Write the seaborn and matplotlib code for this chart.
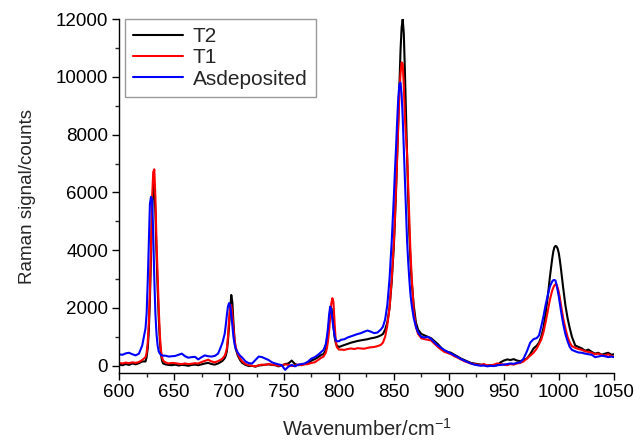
import numpy as np
import pandas as pd
import matplotlib
matplotlib.use("Agg")
import matplotlib.pyplot as plt
import seaborn as sns
from matplotlib.ticker import MultipleLocator

# Wavenumber grid (cm^-1)
wavenumber = [
    600, 603, 606, 609, 612, 615, 618, 621, 624,
    625, 626, 627, 628, 629, 630, 631, 632, 633, 634, 635, 636, 637, 638, 639, 640,
    642, 645, 648, 651, 654, 657, 660, 663, 666, 669, 672, 675, 678, 681, 684, 687, 690,
    692, 694, 696, 697, 698, 699, 700, 701, 702, 703, 704, 705, 706, 708, 710, 712,
    715, 718, 721, 724, 727, 730, 733, 736, 739, 742, 745, 748, 751, 754, 757, 760,
    763, 766, 769, 772, 775, 778, 781, 784,
    786, 788, 789, 790, 791, 792, 793, 794, 795, 796, 797, 798, 800,
    802, 805, 808, 811, 814, 817, 820, 823, 826, 829, 832, 835, 838,
    840, 842, 844, 846, 848, 850, 851, 852, 853, 854, 855, 856, 857, 858, 859, 860,
    861, 862, 863, 864, 865, 866, 868, 870,
    872, 875, 878, 881, 884, 887, 890, 893, 896, 899, 902, 905, 908, 911, 914, 917,
    920, 923, 926, 929, 932, 935, 938, 941, 944, 947, 950, 953, 956, 959, 962, 965,
    968, 971, 974, 977, 980,
    982, 984, 986, 988, 990, 992, 994, 995, 996, 997, 998, 999, 1000, 1001, 1002,
    1004, 1006, 1008, 1010, 1012,
    1015, 1018, 1021, 1024, 1027, 1030, 1033, 1036, 1039, 1042, 1045, 1048, 1050,
]

t2_counts = [
    40, 20, 60, 30, 80, 50, 90, 150, 150,
    300, 600, 1200, 2300, 3800, 5300, 6200, 6300, 5300, 3900, 2700, 1700, 900, 400, 180, 80,
    50, 30, 20, 40, 10, 30, 20, 0, 30, 40, 20, 50, 80, 100, 60, 40, 80,
    120, 170, 260, 350, 500, 850, 1400, 2000, 2450, 2200, 1500, 900, 600, 350, 200, 100,
    30, -10, 0, -30, 10, 20, 40, 50, 30, 20, -20, 10, 60, 80, 180, 60,
    20, 40, 70, 100, 180, 230, 300, 380,
    400, 550, 750, 1050, 1500, 1900, 2000, 1800, 1400, 1000, 800, 700, 650,
    680, 720, 760, 800, 830, 860, 880, 900, 920, 950, 970, 1000, 1050,
    1100, 1250, 1500, 2000, 2900, 4200, 5100, 6100, 7300, 8500, 9700, 10900, 11700, 12000, 11500, 10200,
    8700, 7200, 5800, 4600, 3700, 3000, 2100, 1500,
    1250, 1100, 1050, 1000, 950, 850, 750, 620, 520, 480, 450, 380, 320, 250, 200, 150,
    100, 80, 60, 40, 20, 10, 20, 0, 20, 120, 180, 220, 200, 230, 180, 160,
    200, 250, 400, 600, 700,
    800, 1000, 1300, 1800, 2400, 3100, 3700, 3950, 4100, 4150, 4130, 4050, 3900, 3650, 3350,
    2700, 2100, 1650, 1300, 1000,
    700, 650, 600, 520, 560, 480, 420, 450, 380, 420, 450, 380, 400,
]

t1_counts = [
    100, 80, 110, 90, 120, 100, 130, 200, 300,
    450, 800, 1500, 2600, 4200, 5800, 6700, 6800, 5800, 4300, 3100, 2000, 1100, 550, 300, 180,
    120, 80, 100, 90, 70, 60, 80, 60, 70, 90, 80, 130, 170, 210, 150, 120, 160,
    200, 250, 350, 450, 600, 1000, 1600, 2050, 2100, 1800, 1300, 900, 650, 400, 250, 150,
    60, 20, 0, -20, 20, 40, 30, 60, 40, 30, 0, 20, 50, 30, -10, 10,
    40, 20, 50, 60, 100, 120, 200, 280,
    320, 450, 600, 850, 1200, 1700, 2150, 2340, 2200, 1500, 900, 650, 560,
    560, 550, 580, 600, 580, 610, 600, 590, 620, 640, 650, 680, 720,
    800, 1000, 1400, 2000, 3000, 4300, 5200, 6200, 7300, 8400, 9400, 10100, 10500, 10450, 9700, 8600,
    7900, 7300, 6200, 5000, 4000, 3200, 1900, 1350,
    1100, 950, 920, 900, 870, 760, 650, 560, 480, 440, 400, 330, 280, 220, 160, 120,
    80, 60, 40, 30, 60, 10, 20, 40, 80, 60, 40, 20, 60, 40, 80, 100,
    150, 250, 350, 450, 600,
    750, 900, 1150, 1500, 1900, 2300, 2600, 2700, 2780, 2820, 2800, 2700, 2550, 2350, 2100,
    1650, 1300, 1000, 800, 680,
    620, 580, 550, 500, 480, 450, 400, 420, 380, 350, 400, 340, 320,
]

asdep_counts = [
    400, 380, 430, 450, 400, 360, 420, 700, 1300,
    1800, 2900, 4300, 5600, 5850, 5750, 4600, 3000, 1800, 1100, 700, 500, 420, 380, 360, 350,
    350, 320, 330, 340, 380, 420, 330, 280, 300, 310, 220, 300, 360, 330, 320, 340, 420,
    600, 800, 1100, 1400, 1750, 2050, 2170, 2100, 1800, 1400, 1000, 750, 600, 450, 350, 280,
    150, 90, 80, 200, 320, 300, 250, 200, 120, 80, 50, 20, -140, -30, 30, -20,
    40, 60, 80, 150, 250, 300, 380, 480,
    550, 750, 1000, 1300, 1750, 2050, 1950, 1600, 1300, 1050, 900, 850, 850,
    900, 920, 980, 1020, 1060, 1100, 1130, 1180, 1220, 1180, 1130, 1150, 1250,
    1350, 1600, 2100, 3000, 4300, 5900, 6800, 7600, 8500, 9300, 9750, 9800, 9400, 8600, 7500, 6300,
    5200, 4300, 3600, 3000, 2500, 2150, 1650, 1350,
    1150, 1000, 980, 1000, 920, 800, 700, 620, 540, 480, 420, 360, 300, 230, 180, 130,
    80, 40, 20, 0, 10, -20, 0, -10, 20, 30, 40, 60, 80, 70, 100, 120,
    250, 500, 800, 920, 960,
    1050, 1350, 1700, 2100, 2450, 2750, 2920, 2960, 2970, 2950, 2800, 2600, 2400, 2150, 1900,
    1450, 1100, 850, 650, 550,
    500, 460, 450, 420, 400, 380, 300, 320, 350, 330, 300, 320, 300,
]

series_names = ["T2", "T1", "Asdeposited"]
series_colors = ["#000000", "#ff0000", "#0000ff"]

frames = []
for name, vals in zip(series_names, [t2_counts, t1_counts, asdep_counts]):
    frames.append(pd.DataFrame({"wavenumber": wavenumber, "counts": vals, "sample": name}))
df = pd.concat(frames, ignore_index=True)

sns.set_theme(style="ticks")
plt.rcParams["font.family"] = ["Liberation Sans", "DejaVu Sans"]
plt.rcParams["mathtext.fontset"] = "custom"
plt.rcParams["mathtext.rm"] = "Liberation Sans"
plt.rcParams["mathtext.it"] = "Liberation Sans"

fig = plt.figure(figsize=(6.44, 4.43), dpi=100)
ax = fig.add_axes([0.185, 0.158, 0.768, 0.799])

sns.lineplot(data=df, x="wavenumber", y="counts", hue="sample",
             hue_order=series_names, palette=series_colors,
             estimator=None, linewidth=1.5, ax=ax)

ax.set_xlim(600, 1050)
ax.set_ylim(-250, 12000)
ax.set_xticks(np.arange(600, 1051, 50))
ax.set_yticks(np.arange(0, 12001, 2000))
ax.xaxis.set_minor_locator(MultipleLocator(25))
ax.yaxis.set_minor_locator(MultipleLocator(1000))
ax.tick_params(axis="both", which="major", direction="out", length=5, width=1,
               labelsize=13.5, colors="black", pad=3)
ax.tick_params(axis="both", which="minor", direction="out", length=3, width=1)
for s in ["top", "right"]:
    ax.spines[s].set_visible(False)
for s in ["left", "bottom"]:
    ax.spines[s].set_linewidth(1)
    ax.spines[s].set_color("black")

ax.set_xlabel("Wavenumber/cm$^{\u2212\\mathrm{1}}$", fontsize=14.5, labelpad=12)
ax.set_ylabel("Raman signal/counts", fontsize=13.5, labelpad=14)

leg = ax.legend(loc="upper left", bbox_to_anchor=(0.012, 1.0), fontsize=15,
                frameon=True, fancybox=False, edgecolor="#808080",
                handlelength=2.4, borderpad=0.4, labelspacing=0.1,
                handletextpad=0.45, borderaxespad=0.0)
leg.get_frame().set_linewidth(1)
leg.set_title(None)

fig.savefig("out.png", dpi=100)
